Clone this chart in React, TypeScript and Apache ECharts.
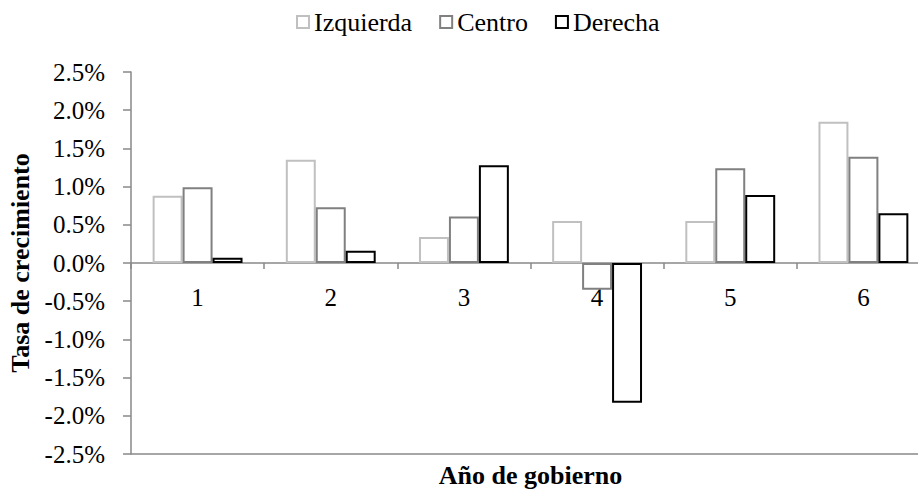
import React, { useEffect, useRef } from "react";
import * as echarts from "echarts";

const categories = ["1", "2", "3", "4", "5", "6"];
const izquierda = [0.88, 1.35, 0.34, 0.55, 0.55, 1.85];
const centro = [0.99, 0.73, 0.61, -0.35, 1.24, 1.39];
const derecha = [0.07, 0.16, 1.28, -1.83, 0.89, 0.65];
const seriesNames = ["Izquierda", "Centro", "Derecha"];
const yTicks = { min: -2.5, max: 2.5, interval: 0.5 };

const FONT = "Liberation Serif";
const AXIS = "#898989";

export default function App() {
  const ref = useRef<HTMLDivElement>(null);
  useEffect(() => {
    if (!ref.current) return;
    const chart = echarts.init(ref.current, null, { renderer: "svg" });
    const colors = ["#c0c0c0", "#808080", "#000000"];
    const datas = [izquierda, centro, derecha];
    chart.setOption({
      animation: false,
      backgroundColor: "#ffffff",
      textStyle: { fontFamily: FONT },
      legend: {
        data: seriesNames,
        left: 291,
        top: 4,
        icon: "rect",
        itemWidth: 12,
        itemHeight: 12,
        itemGap: 27,
        textStyle: { fontFamily: FONT, fontSize: 26, color: "#000" },
      },
      grid: { left: 131, right: 10, top: 72, bottom: 35, containLabel: false, outerBoundsMode: "none" },
      xAxis: {
        type: "category",
        data: categories,
        axisLine: { show: true, onZero: true, lineStyle: { color: AXIS, width: 1.5 } },
        axisTick: { show: true, alignWithLabel: false, length: 6, lineStyle: { color: AXIS, width: 1.5 } },
        axisLabel: { fontFamily: FONT, fontSize: 25, color: "#000", margin: -169 },
        name: "Año de gobierno",
        nameLocation: "middle",
        nameGap: 8,
        nameMoveOverlap: false,
        nameTextStyle: { fontFamily: FONT, fontSize: 26, fontWeight: "bold", color: "#000" },
      },
      yAxis: {
        type: "value",
        min: yTicks.min,
        max: yTicks.max,
        interval: yTicks.interval,
        axisLine: { show: true, lineStyle: { color: AXIS, width: 1.5 } },
        axisTick: { show: true, length: 8, lineStyle: { color: AXIS, width: 1.5 } },
        splitLine: { show: false },
        axisLabel: {
          fontFamily: FONT,
          fontSize: 25,
          color: "#000",
          margin: 26,
          formatter: (v: number) => v.toFixed(1) + "%",
        },
        name: "Tasa de crecimiento",
        nameLocation: "middle",
        nameGap: 94,
        nameTextStyle: { fontFamily: FONT, fontSize: 26, fontWeight: "bold", color: "#000" },
      },
      series: seriesNames.map((name, i) => ({
        name,
        type: "bar",
        data: datas[i],
        barGap: "0%",
        barCategoryGap: "32.5%",
        itemStyle: { color: "#ffffff", borderColor: colors[i], borderWidth: 2 },
        ...(i === 0
          ? {
              markLine: {
                silent: true,
                symbol: ["none", "none"],
                label: { show: false },
                lineStyle: { color: AXIS, width: 1.5, type: "solid" },
                data: [{ yAxis: yTicks.min }],
              },
            }
          : {}),
      })),
    });
    return () => chart.dispose();
  }, []);
  return (
    <div style={{ position: "fixed", left: 0, top: 0, width: 918, height: 489, overflow: "hidden", background: "#fff" }}>
      <div ref={ref} style={{ width: 940, height: 489 }} />
    </div>
  );
}
